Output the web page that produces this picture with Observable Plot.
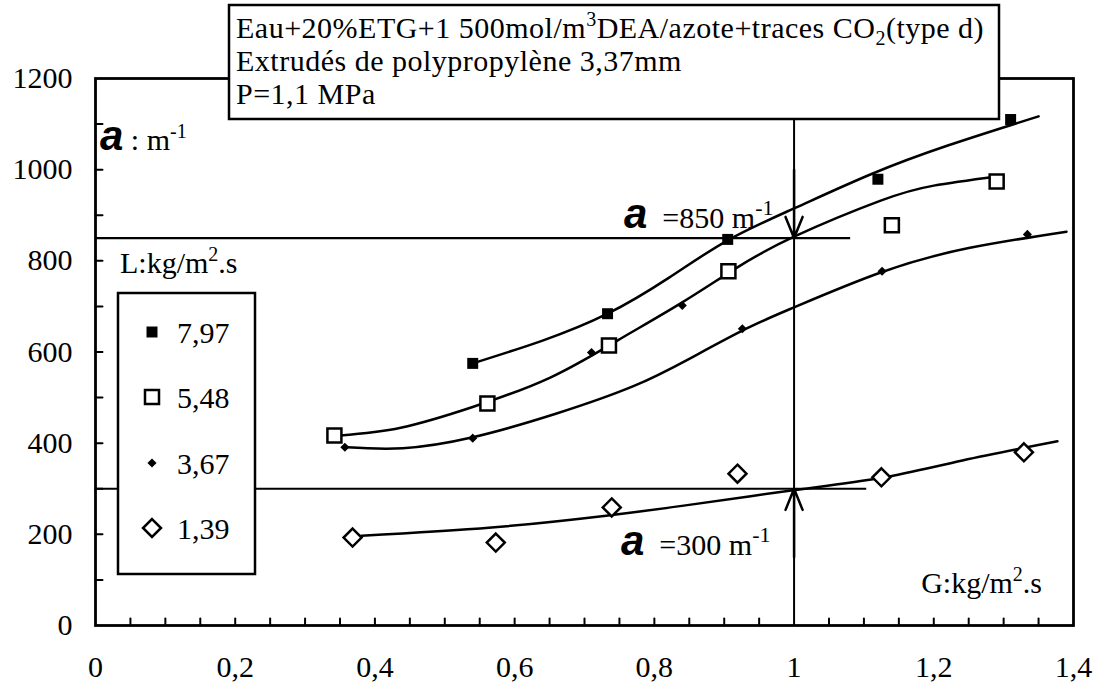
<!DOCTYPE html>
<html>
<head>
<meta charset="utf-8">
<script src="https://cdn.jsdelivr.net/npm/d3@7"></script>
<script src="https://cdn.jsdelivr.net/npm/@observablehq/plot@0.6"></script>
<style>
  body { margin: 0; background: #fff; }
  #chart svg { display: block; }
</style>
</head>
<body>
<div id="chart"></div>
<script>
// ---- Data ----
// Series labels (liquid flow L, kg/m2.s)
const seriesLabels = ["7,97", "5,48", "3,67", "1,39"];

// Measured points [G (kg/m2.s), a (m-1)]
const pts797 = [[0.54, 575], [0.733, 684], [0.905, 847], [1.12, 979], [1.31, 1110]];
const pts548 = [[0.342, 417], [0.561, 487], [0.735, 614], [0.906, 777], [1.14, 878], [1.29, 974]];
const pts367 = [[0.357, 391], [0.54, 411], [0.71, 599], [0.84, 702], [0.926, 651], [1.126, 777], [1.334, 858]];
const pts139 = [[0.368, 193], [0.573, 182], [0.739, 259], [0.919, 333], [1.125, 325], [1.329, 380]];

// Fitted curves as drawn in the reference [G, a]
const curve797 = [[0.54, 575], [0.64, 625], [0.733, 684], [0.82, 762], [0.905, 845], [1.0, 915], [1.11, 990], [1.22, 1053], [1.35, 1117]];
const curve548 = [[0.35, 417], [0.437, 434], [0.541, 480], [0.651, 544], [0.747, 625], [0.837, 706], [0.916, 783], [1.0, 853], [1.124, 932], [1.2, 965], [1.29, 985]];
const curve367 = [[0.36, 391], [0.44, 389], [0.54, 413], [0.66, 465], [0.77, 525], [0.85, 585], [0.93, 650], [1.0, 698], [1.125, 775], [1.25, 828], [1.39, 864]];
const curve139 = [[0.381, 197], [0.567, 215], [0.731, 241], [0.842, 263], [0.996, 296], [1.125, 324], [1.241, 362], [1.377, 404]];

// Reading lines (a = 850 and a = 300 at G = 1)
const readG = 1;
const readLevels = [850, 300];
const readLineEnds = [1.081, 1.104];
const arrowFrom = [1000, 150];

// Axes
const xTickLabels = [0, 0.2, 0.4, 0.6, 0.8, 1, 1.2, 1.4];
const yTickLabels = [0, 200, 400, 600, 800, 1000, 1200];
const xMinorTicks = [0.05, 0.1, 0.15, 0.2, 0.25, 0.3, 0.35, 0.4, 0.45, 0.5, 0.55, 0.6, 0.65, 0.7, 0.75, 0.8, 0.85, 0.9, 0.95, 1.05, 1.1, 1.15, 1.2, 1.25, 1.3, 1.35];
const yMinorTicks = [100, 200, 300, 400, 500, 600, 700, 800, 900, 1000, 1100];

// Texts
const titleLines = [
  [{t: "Eau+20%ETG+1 500mol/m"}, {t: "3", rise: 12, size: 20}, {t: "DEA/azote+traces CO"}, {t: "2", rise: -7, size: 20}, {t: "(type d)"}],
  [{t: "Extrudés de polypropylène 3,37mm"}],
  [{t: "P=1,1 MPa"}]
];

// ---- Build ----
const toObj = arr => arr.map(([G, a]) => ({G, a}));
const tickShape = {draw(ctx, l) { ctx.moveTo(0, 0); ctx.lineTo(0, -l); }};
const comma = d => String(d).replace(".", ",");

const rules = readLevels.map((a, i) => ({a, end: readLineEnds[i]}));
const arrows = readLevels.map((a, i) => ({G: readG, from: arrowFrom[i], to: a}));

const plot = Plot.plot({
  width: 1095,
  height: 686,
  marginLeft: 95,
  marginRight: 22,
  marginTop: 78,
  marginBottom: 61,
  x: {domain: [0, 1.4], label: null},
  y: {domain: [0, 1200], label: null},
  style: {fontFamily: "Liberation Serif", fontSize: "30px", background: "white", color: "black", overflow: "visible"},
  marks: [
    Plot.ruleX([readG], {stroke: "black", strokeWidth: 2}),
    Plot.ruleY(rules, {y: "a", x1: 0, x2: "end", stroke: "black", strokeWidth: 2.2}),
    Plot.arrow(arrows, {x1: "G", x2: "G", y1: "from", y2: "to", headLength: 24, headAngle: 44, stroke: "black", strokeWidth: 2.5}),
    Plot.line(toObj(curve797), {x: "G", y: "a", curve: "natural", stroke: "black", strokeWidth: 2.5}),
    Plot.line(toObj(curve548), {x: "G", y: "a", curve: "natural", stroke: "black", strokeWidth: 2.5}),
    Plot.line(toObj(curve367), {x: "G", y: "a", curve: "natural", stroke: "black", strokeWidth: 2.5}),
    Plot.line(toObj(curve139), {x: "G", y: "a", curve: "natural", stroke: "black", strokeWidth: 2.5}),
    Plot.dot(toObj(pts797), {x: "G", y: "a", symbol: "square", r: 6.2, fill: "black", stroke: null}),
    Plot.dot(toObj(pts548), {x: "G", y: "a", symbol: "square", r: 7.9, fill: "white", stroke: "black", strokeWidth: 2.5}),
    Plot.dot(toObj(pts367), {x: "G", y: "a", symbol: "diamond2", r: 4.1, fill: "black", stroke: null}),
    Plot.dot(toObj(pts139), {x: "G", y: "a", symbol: "diamond2", r: 8.1, fill: "white", stroke: "black", strokeWidth: 2.5}),
    Plot.vector(xMinorTicks, {x: d => d, y: 0, length: 7, rotate: 0, anchor: "start", shape: tickShape, stroke: "black", strokeWidth: 2}),
    Plot.vector(yMinorTicks, {x: 0, y: d => d, length: 7, rotate: 90, anchor: "start", shape: tickShape, stroke: "black", strokeWidth: 2}),
    Plot.frame({stroke: "black", strokeWidth: 2.8}),
    Plot.axisX(xTickLabels, {tickSize: 0, tickPadding: 30, fontSize: 30, tickFormat: comma, label: null}),
    Plot.axisY(yTickLabels, {tickSize: 0, tickPadding: 23, fontSize: 30, tickFormat: d => String(d), label: null})
  ]
});

document.getElementById("chart").append(plot);

// ---- Overlays (title box, legend, annotations) ----
const svg = d3.select(plot);
const sx = plot.scale("x"), sy = plot.scale("y");

function rich(parent, x, y, parts, anchor = "start") {
  const t = parent.append("text").attr("x", x).attr("y", y)
    .attr("font-family", "Liberation Serif").attr("font-size", 30)
    .attr("fill", "black").attr("text-anchor", anchor);
  let prev = 0;
  for (const p of parts) {
    const rise = p.rise || 0;
    const s = t.append("tspan").text(p.t).attr("dy", prev - rise);
    if (p.size) s.attr("font-size", p.size);
    if (p.font) s.attr("font-family", p.font);
    if (p.weight) s.attr("font-weight", p.weight);
    if (p.style) s.attr("font-style", p.style);
    prev = rise;
  }
  return t;
}
const aGlyph = {t: "a", font: "Liberation Sans", weight: "bold", style: "italic", size: 42};

// Title box
const tb = svg.append("g");
tb.append("rect").attr("x", 229).attr("y", 5).attr("width", 770).attr("height", 114)
  .attr("fill", "white").attr("stroke", "black").attr("stroke-width", 2.5);
const titleBase = [38, 71, 104];
titleLines.forEach((parts, i) => rich(tb, 236, titleBase[i], parts)
  .attr("font-size", 30).attr("letter-spacing", 0.5));

// Axis unit labels
rich(svg, 100, 150, [aGlyph, {t: " : m"}, {t: "-1", rise: 12, size: 20}]);
rich(svg, 120, 273, [{t: "L:kg/m"}, {t: "2", rise: 12, size: 20}, {t: ".s"}]);
rich(svg, 1042, 593, [{t: "G:kg/m"}, {t: "2", rise: 12, size: 20}, {t: ".s"}], "end");

// Reading annotations
rich(svg, 624, sy.apply(readLevels[0]) - 10, [aGlyph, {t: "  =850 m"}, {t: "-1", rise: 13, size: 22}]);
rich(svg, 621, sy.apply(readLevels[1]) + 67, [aGlyph, {t: "  =300 m"}, {t: "-1", rise: 13, size: 22}]);

// Legend
const lg = svg.append("g");
lg.append("rect").attr("x", 118).attr("y", 293).attr("width", 137).attr("height", 281)
  .attr("fill", "white").attr("stroke", "black").attr("stroke-width", 2.5);
const legendSym = [
  {type: d3.symbolSquare, r: 6.2, fill: "black", stroke: "none"},
  {type: d3.symbolSquare, r: 7.9, fill: "white", stroke: "black"},
  {type: d3.symbolDiamond2, r: 4.1, fill: "black", stroke: "none"},
  {type: d3.symbolDiamond2, r: 8.1, fill: "white", stroke: "black"}
];
const legendY = [332, 397, 463, 528];
seriesLabels.forEach((lab, i) => {
  const s = legendSym[i];
  lg.append("path")
    .attr("d", d3.symbol(s.type, Math.PI * s.r * s.r)())
    .attr("transform", `translate(152,${legendY[i]})`)
    .attr("fill", s.fill).attr("stroke", s.stroke).attr("stroke-width", 2.5);
  rich(lg, 177, legendY[i] + 11, [{t: lab}]);
});
</script>
</body>
</html>
